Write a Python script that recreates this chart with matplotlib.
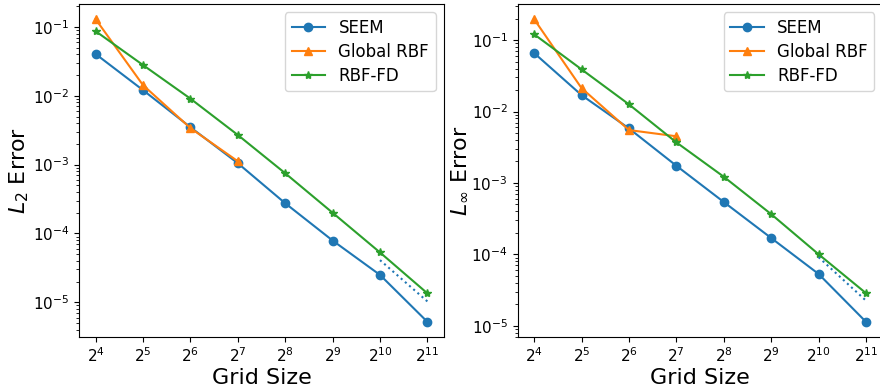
import numpy as np
import matplotlib
matplotlib.use("Agg")
import matplotlib.pyplot as plt

grid = [2**4, 2**5, 2**6, 2**7, 2**8, 2**9, 2**10, 2**11]
grid_rbf = [2**4, 2**5, 2**6, 2**7]
ref_grid = [2**10, 2**11]

# L2 error
l2_seem = [0.0405, 0.0121, 0.0035, 0.00105, 2.75e-4, 7.9e-5, 2.5e-5, 5.2e-6]
l2_global = [0.13, 0.0143, 0.0034, 0.00112]
l2_rbffd = [0.087, 0.028, 0.0091, 0.0027, 7.5e-4, 2.0e-4, 5.3e-5, 1.35e-5]
l2_ref = [4.1e-5, 1.03e-5]

# L-infinity error
li_seem = [0.066, 0.017, 0.0058, 0.00174, 5.4e-4, 1.69e-4, 5.3e-5, 1.13e-5]
li_global = [0.197, 0.0213, 0.0055, 0.0045]
li_rbffd = [0.121, 0.039, 0.0126, 0.0037, 0.00122, 3.65e-4, 1.0e-4, 2.85e-5]
li_ref = [9.1e-5, 2.24e-5]

fig = plt.figure(figsize=(8.8, 3.92), dpi=100)
ax1 = fig.add_axes([79/880, 1-337/392, (444-79)/880, 333/392])
ax2 = fig.add_axes([517.5/880, 1-337/392, (882.6-517.5)/880, 333/392])

for ax, seem, glob, fd, ref, lab in [
    (ax1, l2_seem, l2_global, l2_rbffd, l2_ref, r"$L_2$ Error"),
    (ax2, li_seem, li_global, li_rbffd, li_ref, r"$L_\infty$ Error"),
]:
    ax.plot(grid, seem, marker='o', color='C0', label='SEEM')
    ax.plot(grid_rbf, glob, marker='^', color='C1', label='Global RBF')
    ax.plot(grid, fd, marker='*', color='C2', label='RBF-FD')
    ax.plot(ref_grid, ref, ':', color='C0')
    ax.set_xscale('log', base=2)
    ax.set_yscale('log')
    ax.set_xticks(grid)
    ax.tick_params(labelsize=11)
    ax.set_xlabel('Grid Size', fontsize=16, labelpad=2)
    ax.set_ylabel(lab, fontsize=16, labelpad=1)
    ax.legend(loc='upper right', fontsize=12, labelspacing=0.35)

fig.savefig('out.png', dpi=100)
